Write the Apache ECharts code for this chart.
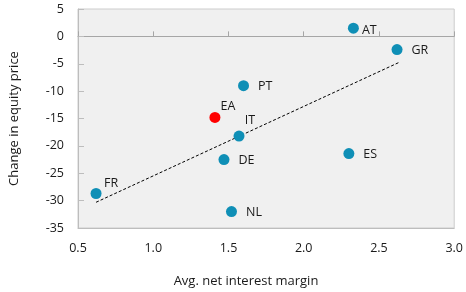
<!DOCTYPE html>
<html>
<head>
<meta charset="utf-8">
<script src="https://cdn.jsdelivr.net/npm/echarts@6/dist/echarts.min.js"></script>
<style>
  html, body { margin: 0; padding: 0; background: #fff; }
  #chart { width: 466px; height: 292px; }
</style>
</head>
<body>
<div id="chart"></div>
<script>
// country codes, avg net interest margin (x), change in equity price (y)
const countries = ['AT', 'GR', 'PT', 'EA', 'IT', 'DE', 'ES', 'FR', 'NL']
const netMargin = [2.33, 2.62, 1.60, 1.41, 1.57, 1.47, 2.30, 0.62, 1.52]
const equityChange = [1.5, -2.4, -9.0, -14.8, -18.2, -22.5, -21.4, -28.7, -32.0]

// fitted trend line end points
const trendX = [0.62, 2.63]
const trendY = [-30.3, -4.8]

const xTicks = [0.5, 3.0, 0.5] // min, max, step
const yTicks = [-35, 5, 5]

const font = '"Open Sans", "Noto Sans", sans-serif'
const ink = '#1a1a1a'
const blue = '#0f8fb6'
const red = '#ff0000'

// label nudges so text sits like the original
const labelStyle = {
  AT: { offset: [-6, 2] },
  EA: { position: 'top', offset: [13, 10] },
  IT: { position: 'top', offset: [11, 5] },
  FR: { position: 'top', offset: [15, 11] },
}

const chart = echarts.init(document.getElementById('chart'))

const points = countries.map((c, i) => {
  const ls = labelStyle[c] || {}
  return {
    name: c,
    value: [netMargin[i], equityChange[i]],
    itemStyle: { color: c === 'EA' ? red : blue, opacity: 1 },
    label: {
      position: ls.position || 'right',
      distance: 9,
      offset: ls.offset || [0, 1],
    },
  }
})

chart.setOption({
  animation: false,
  textStyle: { fontFamily: font },
  grid: {
    left: 74, top: 9, right: 11, bottom: 64,
    show: true,
    backgroundColor: '#f0f0f0',
    borderColor: '#cccccc',
    borderWidth: 1,
  },
  xAxis: [
    {
      type: 'value',
      position: 'bottom',
      min: xTicks[0], max: xTicks[1], interval: xTicks[2],
      axisLine: { onZero: false, lineStyle: { color: '#bdbdbd' } },
      axisTick: { show: false },
      splitLine: { show: false },
      axisLabel: {
        color: ink, fontSize: 12.5, margin: 14,
        formatter: v => v.toFixed(1),
      },
    },
    {
      type: 'value',
      position: 'top',
      min: xTicks[0], max: xTicks[1], interval: xTicks[2],
      axisLine: { onZero: true, lineStyle: { color: '#a6a6a6' } },
      axisTick: { show: true, length: 5, lineStyle: { color: '#a6a6a6' } },
      splitLine: { show: false },
      axisLabel: { show: false },
    },
  ],
  yAxis: {
    type: 'value',
    min: yTicks[0], max: yTicks[1], interval: yTicks[2],
    name: 'Change in equity price',
    nameLocation: 'middle',
    nameGap: 57,
    nameTextStyle: { color: ink, fontSize: 13, fontFamily: font },
    axisLine: { show: true, lineStyle: { color: '#bdbdbd' } },
    axisTick: { show: true, inside: true, length: 6, lineStyle: { color: '#bdbdbd' } },
    splitLine: { show: false },
    axisLabel: { color: ink, fontSize: 12.5, margin: 14 },
  },
  graphic: [{
    type: 'text',
    x: 246, y: 281,
    style: {
      text: 'Avg. net interest margin',
      fill: ink,
      font: '13px ' + font,
      textAlign: 'center',
      textVerticalAlign: 'middle',
    },
  }],
  series: [
    {
      type: 'line',
      data: trendX.map((x, i) => [x, trendY[i]]),
      symbol: 'none',
      lineStyle: { color: '#000', width: 1, type: [3, 2] },
      z: 1,
    },
    {
      type: 'scatter',
      data: points,
      symbolSize: 11,
      label: {
        show: true,
        formatter: p => p.name,
        color: ink,
        fontSize: 12.5,
        fontFamily: font,
      },
      z: 2,
    },
  ],
})
</script>
</body>
</html>
